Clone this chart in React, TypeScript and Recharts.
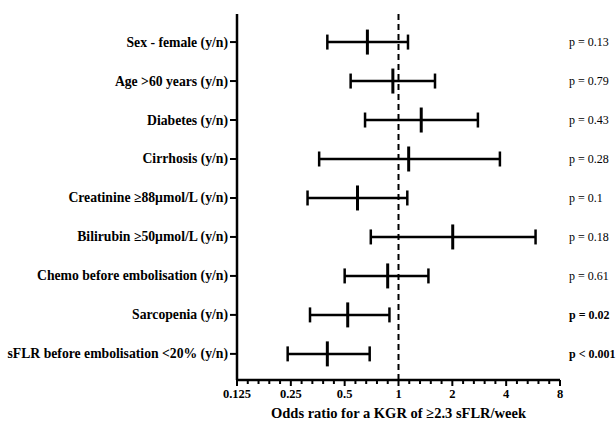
import { ScatterChart, Scatter, XAxis, YAxis, ErrorBar, ReferenceLine } from 'recharts';

const rowLabels = [
  'Sex - female (y/n)',
  'Age >60 years (y/n)',
  'Diabetes (y/n)',
  'Cirrhosis (y/n)',
  'Creatinine ≥88µmol/L (y/n)',
  'Bilirubin ≥50µmol/L (y/n)',
  'Chemo before embolisation (y/n)',
  'Sarcopenia (y/n)',
  'sFLR before embolisation <20% (y/n)',
];
const oddsRatio = [0.67, 0.93, 1.34, 1.14, 0.59, 2.01, 0.87, 0.52, 0.4];
const ciLower = [0.4, 0.54, 0.65, 0.36, 0.31, 0.7, 0.5, 0.32, 0.24];
const ciUpper = [1.13, 1.6, 2.78, 3.69, 1.12, 5.84, 1.47, 0.89, 0.69];
const pLabels = ['p = 0.13', 'p = 0.79', 'p = 0.43', 'p = 0.28', 'p = 0.1', 'p = 0.18', 'p = 0.61', 'p = 0.02', 'p < 0.001'];
const pBold = [false, false, false, false, false, false, false, true, true];
const majorTicks = [0.125, 0.25, 0.5, 1, 2, 4, 8];

const minorTicks = majorTicks.slice(0, -1).flatMap((t) => [1, 2, 3, 4].map((k) => t * 2 ** (k / 5)));
const allTicks = [...majorTicks, ...minorTicks].sort((a, b) => a - b);
const rowTicks = rowLabels.map((_, i) => i);

const data = rowLabels.map((name, i) => ({
  name,
  row: i,
  or: oddsRatio[i],
  err: [oddsRatio[i] - ciLower[i], ciUpper[i] - oddsRatio[i]],
}));

const FONT = '"Liberation Serif", "Times New Roman", serif';
const Y_DOMAIN: [number, number] = [-0.72, 8.67];

function XTick(props: any) {
  const { x, y, payload } = props;
  const major = majorTicks.includes(payload.value);
  return (
    <g>
      <line x1={x} x2={x} y1={y} y2={y + (major ? 6 : 4)} stroke="#000" strokeWidth={2} />
      {major && (
        <text x={x} y={y + 18} textAnchor="middle" fontFamily={FONT} fontWeight="bold" fontSize={12.5} fill="#000">
          {payload.value}
        </text>
      )}
    </g>
  );
}

function RowTick(props: any) {
  const { y, payload } = props;
  return (
    <g>
      <line x1={230} x2={237} y1={y} y2={y} stroke="#000" strokeWidth={2} />
      <text x={228} y={y} dy={4.5} textAnchor="end" fontFamily={FONT} fontWeight="bold" fontSize={13.7} fill="#000">
        {rowLabels[payload.value]}
      </text>
    </g>
  );
}

function PTick(props: any) {
  const { y, payload } = props;
  const i = payload.value;
  return (
    <text x={569} y={y} dy={4} textAnchor="start" fontFamily={FONT} fontSize={12} fontWeight={pBold[i] ? 'bold' : 'normal'} fill="#000">
      {pLabels[i]}
    </text>
  );
}

function Marker(props: any) {
  const { cx, cy } = props;
  return <line x1={cx} x2={cx} y1={cy - 12.5} y2={cy + 12.5} stroke="#000" strokeWidth={3} />;
}

export default function App() {
  return (
    <div style={{ position: 'absolute', left: 0, top: 0, background: '#fff' }}>
      <ScatterChart width={616} height={422} margin={{ top: 14, right: 0, left: 0, bottom: 0 }}>
        <XAxis
          type="number"
          dataKey="or"
          scale="log"
          domain={[0.125, 8]}
          allowDataOverflow
          ticks={allTicks}
          interval={0}
          tickSize={0}
          tickMargin={0}
          tick={<XTick />}
          axisLine={{ stroke: '#000', strokeWidth: 2.5 }}
          height={42}
          label={{
            value: 'Odds ratio for a KGR of ≥2.3 sFLR/week',
            position: 'insideBottom',
            offset: 4,
            fontFamily: FONT,
            fontWeight: 'bold',
            fontSize: 14.5,
            fill: '#000',
          }}
        />
        <YAxis
          yAxisId="left"
          type="number"
          dataKey="row"
          reversed
          domain={Y_DOMAIN}
          allowDataOverflow
          ticks={rowTicks}
          interval={0}
          width={237}
          tickSize={0}
          tickLine={false}
          tick={<RowTick />}
          axisLine={{ stroke: '#000', strokeWidth: 2.5 }}
        />
        <YAxis
          yAxisId="p"
          orientation="right"
          type="number"
          reversed
          domain={Y_DOMAIN}
          allowDataOverflow
          ticks={rowTicks}
          interval={0}
          width={56}
          tickSize={0}
          axisLine={false}
          tickLine={false}
          tick={<PTick />}
        />
        <ReferenceLine yAxisId="left" x={1} stroke="#000" strokeWidth={2} strokeDasharray="6 4" />
        <Scatter yAxisId="left" data={data} shape={<Marker />} isAnimationActive={false}>
          <ErrorBar dataKey="err" direction="x" width={7.5} stroke="#000" strokeWidth={2.5} isAnimationActive={false} />
        </Scatter>
      </ScatterChart>
    </div>
  );
}
